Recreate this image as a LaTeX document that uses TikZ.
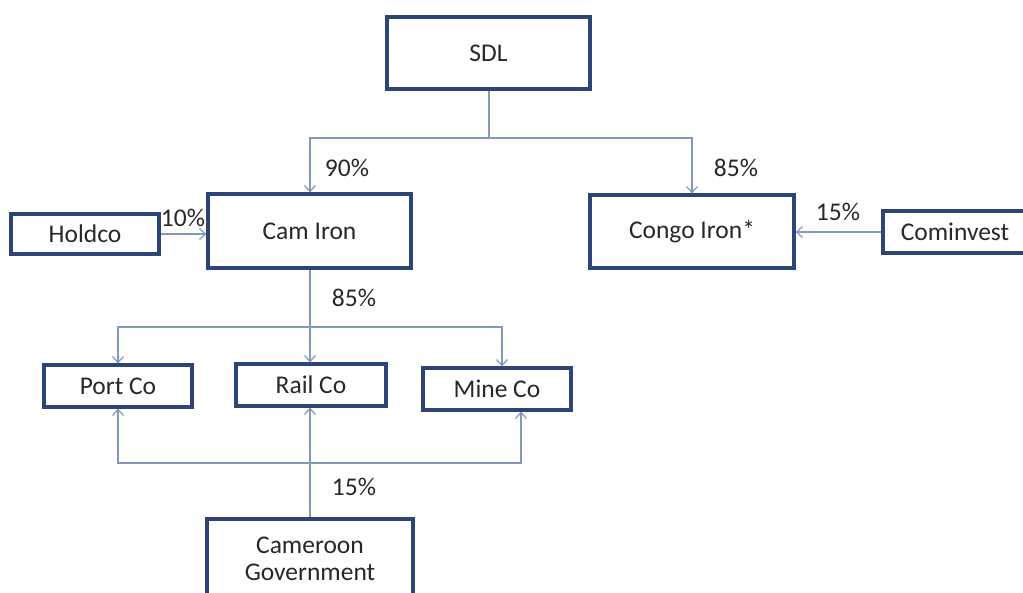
\documentclass[tikz,border=0pt]{standalone}
\usepackage{fontspec}
\setmainfont{Carlito}
\usetikzlibrary{arrows.meta}
\definecolor{boxblue}{RGB}{44,68,120}
\definecolor{linkblue}{RGB}{128,154,190}
\definecolor{txt}{RGB}{40,40,40}
\definecolor{shade}{RGB}{200,200,200}
\begin{document}
\begin{tikzpicture}[x=1pt,y=-1pt,
  every node/.style={font=\fontsize{25.5}{29}\selectfont, text=txt},
  cbox/.style={draw=boxblue, line width=3.2pt, fill=white, inner sep=0pt, align=center},
  link/.style={draw=linkblue, line width=1.4pt},
  arr/.style={link, -{Straight Barb[length=6pt,width=11pt,line width=1.2pt]}},
  pct/.style={inner sep=0pt}]
\clip (0,0) rectangle (1023,592);
\fill[white] (0,0) rectangle (1023,592);
% boxes
\node[cbox, minimum width=203pt, minimum height=72pt] (sdl) at (488.5,53) {SDL};
\node[cbox, minimum width=203pt, minimum height=74pt] (cam) at (309.5,231) {Cam Iron};
\node[cbox, minimum width=204pt, minimum height=73pt] (congo) at (692,231.5) {Congo Iron*};
\node[cbox, minimum width=148pt, minimum height=40pt] (hold) at (85,234) {Holdco};
\node[cbox, minimum width=144pt, minimum height=42pt] (comi) at (955,232) {Cominvest};
\node[cbox, minimum width=148pt, minimum height=42pt] (port) at (118,386) {Port Co};
\node[cbox, minimum width=150pt, minimum height=42pt] (rail) at (311,385) {Rail Co};
\node[cbox, minimum width=148pt, minimum height=42pt] (mine) at (497,389) {Mine Co};
\node[cbox, minimum width=206pt, minimum height=80pt] (gov) at (310,559) {Cameroon\\[-2pt]Government};
% coordinates for junctions
\coordinate (j1) at (489,138);
\coordinate (j2) at (310,327);
\coordinate (j3) at (310,463);
% SDL connectors
\draw[link] (sdl.south -| j1) -- (j1);
\draw[arr] (j1) -| (cam.north -| 310,0);
\draw[arr] (j1) -| (congo.north);
% side connectors
\draw[arr] (hold.east) -- (cam.west |- hold.east);
\draw[arr] (comi.west) -- (congo.east |- comi.west);
% Cam Iron to subsidiaries
\draw[arr] (cam.south -| j2) -- (rail.north -| j2);
\draw[arr] (j2) -| (port.north);
\draw[arr] (j2) -| (mine.north -| 502,0);
% Government
\draw[arr] (gov.north -| j3) -- (rail.south -| j3);
\draw[arr] (j3) -| (port.south);
\draw[arr] (j3) -| (mine.south -| 521,0);
% labels
\node[pct] (l90) at (347,168) {90\%};
\node[pct] (l85a) at (736,168) {85\%};
\node[pct] (l10) at (183,218) {10\%};
\node[pct] (l15a) at (838,212) {15\%};
\node[pct] (l85b) at (354,298) {85\%};
\node[pct] (l15b) at (354,487) {15\%};
\end{tikzpicture}
\end{document}
